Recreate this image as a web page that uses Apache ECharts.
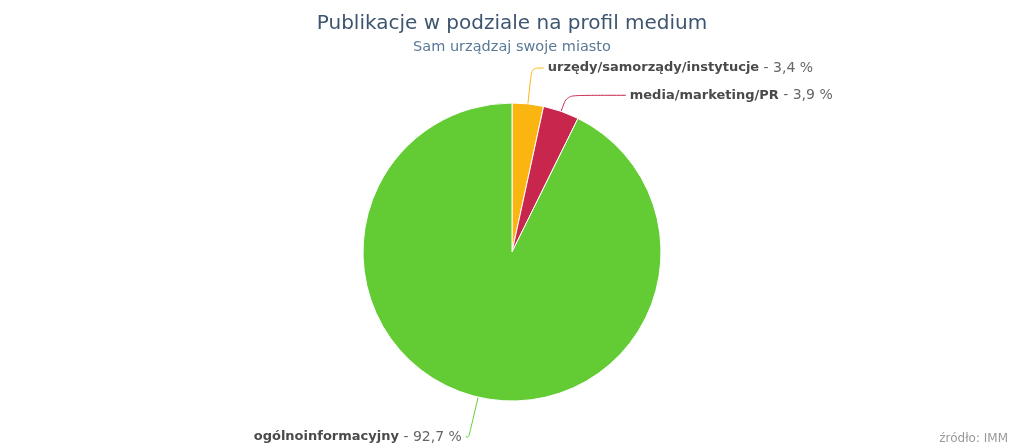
<!DOCTYPE html>
<html><head><meta charset="utf-8">
<script src="https://cdn.jsdelivr.net/npm/echarts@6/dist/echarts.min.js"></script>
<style>html,body{margin:0;padding:0;background:#fff}#c{width:1024px;height:448px}</style>
</head><body><div id="c"></div>
<script>
const categories = ['urzędy/samorządy/instytucje', 'media/marketing/PR', 'ogólnoinformacyjny'];
const values = [3.4, 3.9, 92.7];
const colors = ['#fbb511', '#c9264d', '#63cc35'];
const lineLen = [[36, 12], [17, 59], [41, 3]];

const chart = echarts.init(document.getElementById('c'), null, {renderer: 'canvas'});
const FONT = '"DejaVu Sans", Verdana, sans-serif';
chart.setOption({
  animation: false,
  title: [
    {text: 'Publikacje w podziale na profil medium', left: 'center', top: 9,
     textStyle: {fontFamily: FONT, fontSize: 20, fontWeight: 'normal', color: '#3e5570'}},
    {text: 'Sam urządzaj swoje miasto', left: 'center', top: 35,
     textStyle: {fontFamily: FONT, fontSize: 14.5, fontWeight: 'normal', color: '#5a7896'}},
    {text: 'źródło: IMM', right: 11, top: 428,
     textStyle: {fontFamily: FONT, fontSize: 12, fontWeight: 'normal', color: '#999'}}
  ],
  series: [{
    type: 'pie',
    center: [512, 252],
    radius: 149,
    startAngle: 90,
    clockwise: true,
    avoidLabelOverlap: false,
    itemStyle: {borderColor: '#fff', borderWidth: 1},
    label: {
      show: true,
      position: 'outside',
      fontFamily: FONT,
      formatter: p => '{n|' + p.name + '}{v| - ' + String(p.value).replace('.', ',') + ' %}',
      rich: {
        n: {fontFamily: FONT, fontSize: 13, fontWeight: 'bold', color: '#4a4a4a'},
        v: {fontFamily: FONT, fontSize: 14, color: '#666'}
      },
      distanceToLabelLine: 4
    },
    labelLine: {show: true, smooth: 0.3, lineStyle: {width: 1}},
    data: categories.map((c, i) => ({
      name: c, value: values[i],
      itemStyle: {color: colors[i]},
      labelLine: {length: lineLen[i][0], length2: lineLen[i][1], lineStyle: {color: colors[i]}}
    }))
  }]
});
</script></body></html>
